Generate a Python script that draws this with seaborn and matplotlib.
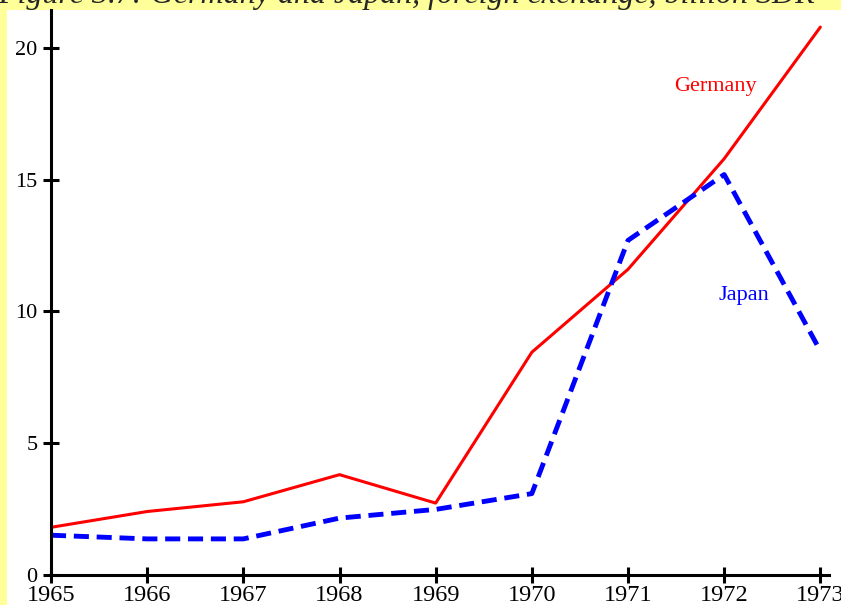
import matplotlib
matplotlib.use("Agg")
import matplotlib.pyplot as plt
from matplotlib.patches import Rectangle
import pandas as pd
import seaborn as sns

# Foreign exchange reserves, billion SDR
years = [1965, 1966, 1967, 1968, 1969, 1970, 1971, 1972, 1973]
germany = [1.8, 2.4, 2.77, 3.8, 2.72, 8.45, 11.6, 15.8, 20.8]
japan = [1.5, 1.36, 1.36, 2.15, 2.48, 3.08, 12.7, 15.2, 8.5]
y_ticks = [0, 5, 10, 15, 20]
title = "Figure 3.7: Germany and Japan, foreign exchange, billion SDR"

sns.set_style("white")
plt.rcParams["font.family"] = ["Liberation Serif", "DejaVu Serif"]

W, H = 841, 605
fig = plt.figure(figsize=(W / 100, H / 100), dpi=100)
fig.patch.set_facecolor("#ffff99")

# white panel behind the chart
fig.patches.append(Rectangle((7 / W, 0), 1 - 7 / W, 1 - 10 / H,
                             transform=fig.transFigure, facecolor="white",
                             edgecolor="none", zorder=-1))
fig.text(-2 / W, 1 - 3 / H, title, fontsize=23, style="italic",
         ha="left", va="baseline", zorder=-2)

ax = fig.add_axes([51 / W, (H - 574.7) / H, (829 - 51) / W, (574.7 - 10) / H])
ax.set_facecolor("none")

df_g = pd.DataFrame({"year": years, "value": germany})
df_j = pd.DataFrame({"year": years, "value": japan})

sns.lineplot(data=df_g, x="year", y="value", ax=ax, color="#ff0000",
             linewidth=2.2)
sns.lineplot(data=df_j, x="year", y="value", ax=ax, color="#0000ff",
             linewidth=3.5)
ax.lines[-1].set_dashes((3.1, 1.6))
ax.lines[-1].set_dash_capstyle("butt")

ax.text(1971.91, 18.36, "Germany", color="#ff0000", fontsize=16,
        ha="center", va="baseline")
ax.text(1972.20, 10.43, "Japan", color="#0000ff", fontsize=16,
        ha="center", va="baseline")

ax.set_xlim(1965, 1973.09)
ax.set_ylim(0, 21.45)
ax.set_xticks(years)
ax.set_xticklabels([str(y) for y in years])
ax.set_yticks(y_ticks)
ax.set_yticklabels([str(v) for v in y_ticks])
ax.set_xlabel("")
ax.set_ylabel("")

for side in ("top", "right"):
    ax.spines[side].set_visible(False)
for side in ("left", "bottom"):
    ax.spines[side].set_linewidth(2.2)
    ax.spines[side].set_color("black")

ax.tick_params(axis="both", which="major", bottom=True, left=True,
               direction="inout", length=12.2, width=2.2, colors="black")
ax.tick_params(axis="x", pad=1.5, labelsize=17.5)
ax.tick_params(axis="y", pad=3.5, labelsize=16)
for lbl in ax.get_xticklabels() + ax.get_yticklabels():
    lbl.set_clip_on(False)

fig.savefig("out.png", dpi=100)
